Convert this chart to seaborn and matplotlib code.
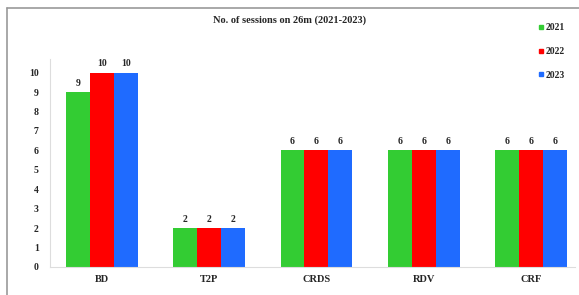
import pandas as pd
import matplotlib
matplotlib.use("Agg")
import matplotlib.pyplot as plt
import seaborn as sns
from matplotlib.lines import Line2D

# data
categories = ["BD", "T2P", "CRDS", "RDV", "CRF"]
years = ["2021", "2022", "2023"]
sessions_2021 = [9, 2, 6, 6, 6]
sessions_2022 = [10, 2, 6, 6, 6]
sessions_2023 = [10, 2, 6, 6, 6]
colors = ["#33CC33", "#FF0000", "#1F6BFF"]

df = pd.DataFrame({
    "category": categories * 3,
    "year": [y for y in years for _ in categories],
    "sessions": sessions_2021 + sessions_2022 + sessions_2023,
})

sns.set_style("white")
plt.rcParams["font.family"] = ["Liberation Serif", "DejaVu Serif"]

fig = plt.figure(figsize=(5.79, 2.95), dpi=100)
ax = fig.add_axes([0.086, 0.095, 0.907, 0.705])

sns.barplot(data=df, x="category", y="sessions", hue="year",
            palette=colors, width=0.67, saturation=1, linewidth=0,
            ax=ax, legend=False)

for cont in ax.containers:
    ax.bar_label(cont, fmt="%g", padding=3, fontsize=7, fontweight="bold")

ax.set_ylim(0, 10.7)
ax.set_xlim(-0.486, 4.41)
ax.set_yticks(range(0, 11))
ax.set_xlabel("")
ax.set_ylabel("")
ax.tick_params(axis="y", labelsize=7, length=0, pad=8)
ax.tick_params(axis="x", labelsize=7.5, length=0, pad=6)
for lab in ax.get_xticklabels() + ax.get_yticklabels():
    lab.set_fontweight("bold")
for s in ["top", "right"]:
    ax.spines[s].set_visible(False)
for s in ["left", "bottom"]:
    ax.spines[s].set_color("#dddddd")
    ax.spines[s].set_linewidth(0.8)

fig.text(0.5, 0.93, "No. of sessions on 26m (2021-2023)", ha="center",
         va="center", fontsize=7.5, fontweight="bold")

handles = [Line2D([], [], marker="s", color=c, linestyle="", markersize=3.5)
           for c in colors]
fig.legend(handles, years, loc="upper left", bbox_to_anchor=(0.912, 0.95),
           frameon=False, handletextpad=0.1, handlelength=0.8,
           labelspacing=1.5, prop={"weight": "bold", "size": 7})

# frame lines of the original picture
fig.add_artist(Line2D([0.012, 1.0], [0.973, 0.973], color="#999999", lw=1.2))
fig.add_artist(Line2D([0.012, 0.012], [0.0, 0.973], color="#999999", lw=1.2))

fig.savefig("out.png", dpi=100)
